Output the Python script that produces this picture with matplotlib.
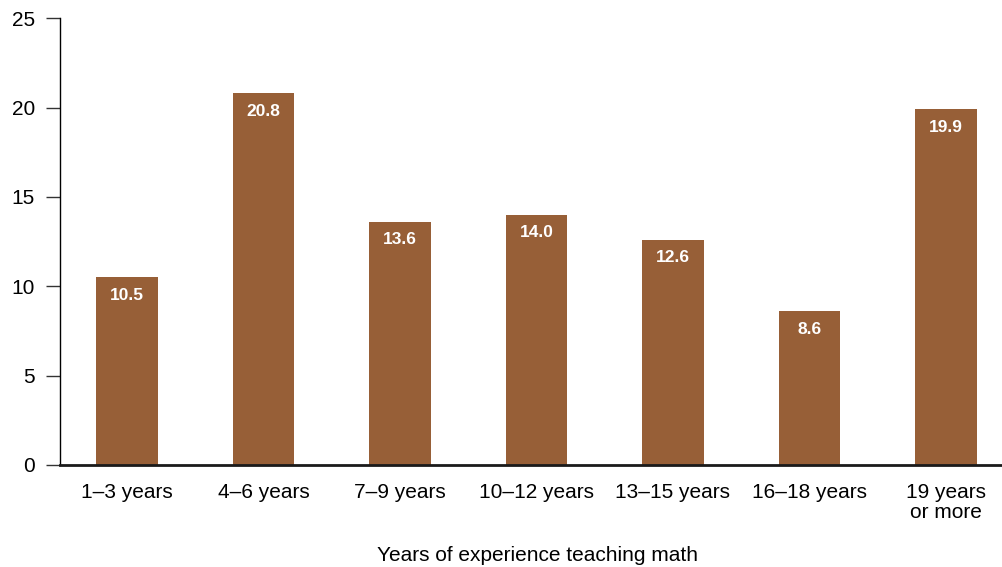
import matplotlib.pyplot as plt

# Data
categories = ["1–3 years", "4–6 years", "7–9 years", "10–12 years",
              "13–15 years", "16–18 years", "19 years\nor more"]
values = [10.5, 20.8, 13.6, 14.0, 12.6, 8.6, 19.9]
y_ticks = [0, 5, 10, 15, 20, 25]

plt.rcParams["font.family"] = ["Liberation Sans", "DejaVu Sans"]

fig = plt.figure(figsize=(10.02, 5.67), dpi=100)
ax = fig.add_axes([0.0599, 0.18, 0.9401, 0.788])

x = range(len(categories))
bars = ax.bar(x, values, width=0.45, color="#975F37")

# Value labels inside bars
for i, v in enumerate(values):
    ax.annotate(f"{v:.1f}", (i, v), xytext=(0, -13), textcoords="offset points",
                ha="center", va="center", color="white", fontweight="bold", fontsize=12.5)

ax.set_xlim(-0.49, 6.41)
ax.set_ylim(0, 25)
ax.set_yticks(y_ticks)
ax.set_xticks(list(x))
ax.set_xticklabels(categories, fontsize=15, linespacing=1.05)
ax.tick_params(axis="y", labelsize=15, length=10, width=1, color="#333333", pad=8)
ax.tick_params(axis="x", length=0, pad=13)

ax.spines["top"].set_visible(False)
ax.spines["right"].set_visible(False)
ax.spines["left"].set_linewidth(1)
ax.spines["bottom"].set_linewidth(2)
ax.spines["bottom"].set_color("#1a1a1a")

fig.text(0.536, 0.01, "Years of experience teaching math", ha="center", fontsize=15)

plt.savefig("out.png", dpi=100)
